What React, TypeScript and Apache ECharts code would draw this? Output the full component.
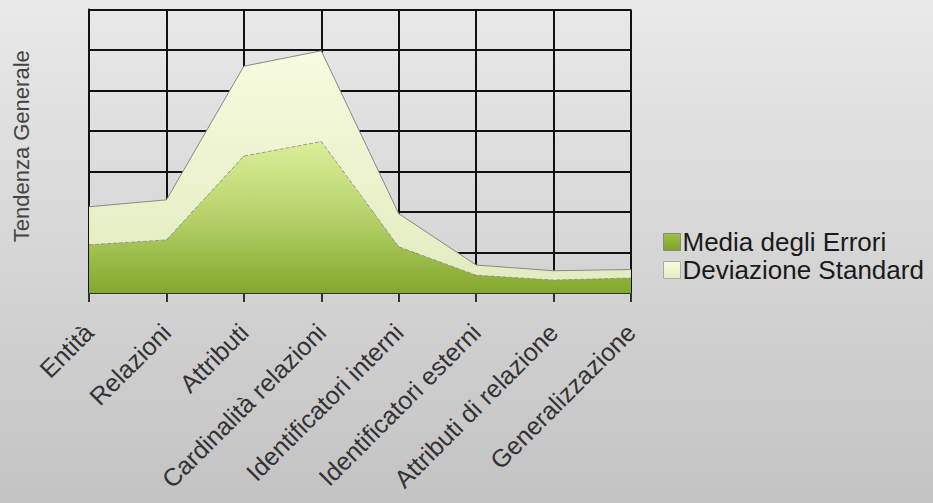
import React, { useEffect, useRef } from "react";
import * as echarts from "echarts";

const categories = [
  "Entità",
  "Relazioni",
  "Attributi",
  "Cardinalità relazioni",
  "Identificatori interni",
  "Identificatori esterni",
  "Attributi di relazione",
  "Generalizzazione",
];
const mediaErrori = [1.19, 1.31, 3.38, 3.74, 1.14, 0.44, 0.32, 0.37];
const deviazioneStandard = [0.94, 0.99, 2.22, 2.24, 0.82, 0.25, 0.23, 0.21];
const yAxisName = "Tendenza Generale";

export default function App() {
  const ref = useRef<HTMLDivElement>(null);
  useEffect(() => {
    if (!ref.current) return;
    const chart = echarts.init(ref.current, null, { renderer: "svg" });
    const font = "'Liberation Sans', Arial, sans-serif";
    chart.setOption({
      animation: false,
      textStyle: { fontFamily: font },
      grid: { left: 89, right: 302, top: 9.5, bottom: 210, containLabel: false },
      legend: {
        orient: "vertical",
        left: 658,
        top: 224,
        itemWidth: 17,
        itemHeight: 17,
        itemGap: 2,
        icon: "rect",
        textStyle: { fontSize: 26, color: "#1a1a1a", fontFamily: font, padding: [0, 0, 0, -3] },
        data: [
          { name: "Media degli Errori", itemStyle: { borderColor: "#888", borderWidth: 1 } },
          { name: "Deviazione Standard", itemStyle: { borderColor: "#aaa", borderWidth: 1 } },
        ],
      },
      xAxis: {
        type: "category",
        data: categories,
        boundaryGap: false,
        axisLine: { show: true, lineStyle: { color: "#333", width: 2 } },
        axisTick: { show: true, length: 9, lineStyle: { color: "#333", width: 2 } },
        axisLabel: {
          rotate: 45,
          margin: 35,
          fontSize: 25,
          color: "#333",
          fontFamily: font,
          interval: 0,
        },
        splitLine: { show: true, lineStyle: { color: "#111", width: 2 } },
        z: 0,
      },
      yAxis: {
        type: "value",
        min: 0,
        max: 7,
        interval: 1,
        name: yAxisName,
        nameLocation: "middle",
        nameGap: 57,
        nameRotate: 90,
        nameTextStyle: { fontSize: 22, color: "#444", fontFamily: font, padding: [0, 0, 0, 10] },
        axisLine: { show: true, lineStyle: { color: "#111", width: 2 } },
        axisTick: { show: false },
        axisLabel: { show: false },
        splitLine: { show: true, lineStyle: { color: "#111", width: 2 } },
      },
      series: [
        {
          name: "Media degli Errori",
          type: "line",
          stack: "tot",
          data: mediaErrori,
          symbol: "none",
          lineStyle: { color: "#8a8a8a", width: 1, type: "dashed", opacity: 0.8 },
          itemStyle: {
            color: new echarts.graphic.LinearGradient(0, 0, 0, 1, [
              { offset: 0, color: "#9cc040" },
              { offset: 1, color: "#7fa32a" },
            ]),
          },
          areaStyle: {
            opacity: 1,
            color: new echarts.graphic.LinearGradient(0, 0, 0, 1, [
              { offset: 0, color: "#dbee98" },
              { offset: 0.5, color: "#b5d26a" },
              { offset: 1, color: "#84a82c" },
            ]),
          },
          z: 3,
        },
        {
          name: "Deviazione Standard",
          type: "line",
          stack: "tot",
          data: deviazioneStandard,
          symbol: "none",
          lineStyle: { color: "#888", width: 1 },
          itemStyle: {
            color: new echarts.graphic.LinearGradient(0, 0, 0, 1, [
              { offset: 0, color: "#f6fadf" },
              { offset: 1, color: "#e6efc4" },
            ]),
          },
          areaStyle: {
            opacity: 1,
            color: new echarts.graphic.LinearGradient(0, 0, 0, 1, [
              { offset: 0, color: "#f8fbdf" },
              { offset: 1, color: "#e2ecc0" },
            ]),
          },
          z: 2,
        },
      ],
    });
    return () => chart.dispose();
  }, []);
  return (
    <div
      style={{
        position: "fixed",
        left: 0,
        top: 0,
        width: 933,
        height: 503,
        background: "linear-gradient(to bottom, #e9e9e9, #c3c3c3)",
      }}
    >
      <div ref={ref} style={{ width: 933, height: 503 }} />
    </div>
  );
}
